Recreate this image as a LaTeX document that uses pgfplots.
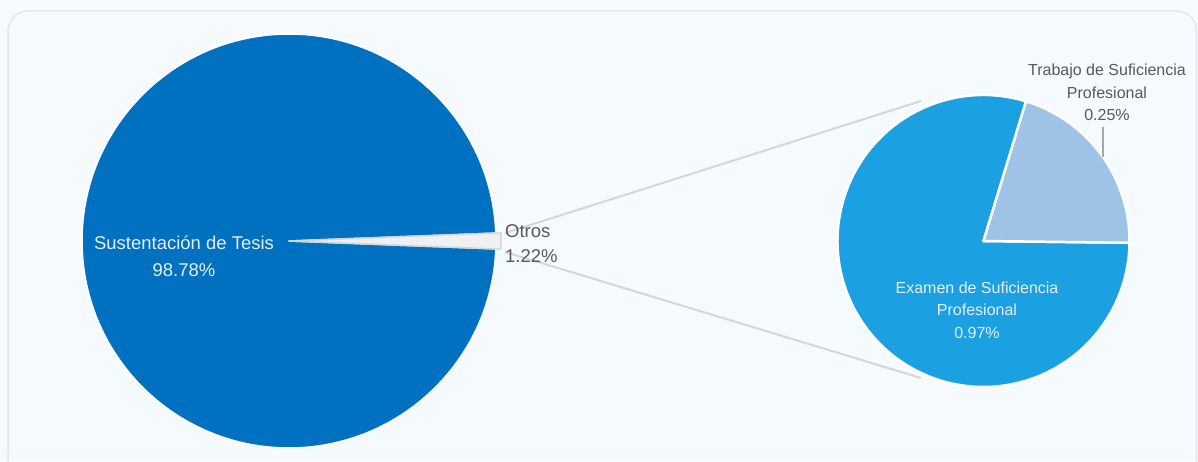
\documentclass[border=0pt]{standalone}
\usepackage{pgfplots}
\usepackage{pgfplotstable}
\pgfplotsset{compat=1.18}
\usepackage{fontspec}
\setmainfont{Liberation Sans}
\definecolor{bg}{HTML}{F5FAFE}
\definecolor{cardline}{HTML}{E1E7EE}
\definecolor{cMain}{HTML}{0070C0}
\definecolor{cExam}{HTML}{1BA1E2}
\definecolor{cTrab}{HTML}{9DC3E6}
\definecolor{cOtros}{HTML}{EEF0F3}
\definecolor{conn}{HTML}{D6D6D6}
\definecolor{lblgray}{HTML}{595959}
\definecolor{lbllight}{HTML}{E6EEF6}

% main pie
\pgfplotstableread[col sep=comma]{
label,value
Sustentacion,98.78
Otros,1.22
}\maintable
% secondary pie (breakdown of Otros)
\pgfplotstableread[col sep=comma]{
label,value
Examen,0.97
Trabajo,0.25
}\subtable

\pgfplotstablegetelem{0}{value}\of\maintable \let\vSust=\pgfplotsretval
\pgfplotstablegetelem{1}{value}\of\maintable \let\vOtros=\pgfplotsretval
\pgfplotstablegetelem{0}{value}\of\subtable \let\vExam=\pgfplotsretval
\pgfplotstablegetelem{1}{value}\of\subtable \let\vTrab=\pgfplotsretval

\pgfmathsetmacro\oHalf{\vOtros*3.6/2}
\pgfmathsetmacro\sStart{\oHalf}
\pgfmathsetmacro\sEnd{360-\oHalf}
\pgfmathsetmacro\oStart{-\oHalf}
\pgfmathsetmacro\tSpan{\vTrab/(\vTrab+\vExam)*360}
\pgfmathsetmacro\tStart{-0.7}
\pgfmathsetmacro\tEnd{\tStart+\tSpan}
\pgfmathsetmacro\eEnd{360+\tStart}

\begin{document}
\begin{tikzpicture}
\begin{axis}[
  name=ax,
  x=1pt, y=1pt,
  xmin=0, xmax=1198, ymin=0, ymax=461,
  hide axis, clip=false,
]
% background
\fill[bg] (axis cs:0,0) rectangle (axis cs:1198,461);
\draw[cardline, line width=1.5pt, rounded corners=20pt] (axis cs:8,-30) rectangle (axis cs:1196.5,450);
% connector lines
\draw[conn, line width=2pt] (axis cs:505,228) -- (axis cs:921,360);
\draw[conn, line width=2pt] (axis cs:505,209) -- (axis cs:921,83);
% main pie
\filldraw[fill=cMain, draw=white, line width=1.5pt, line join=round]
  (axis cs:289,220) -- ++(\sStart:207pt) arc[start angle=\sStart, end angle=\sEnd, radius=207pt] -- cycle;
\filldraw[fill=cOtros, draw=conn, line width=1.5pt, line join=round]
  (axis cs:289,220) -- ++(\oStart:212pt) arc[start angle=\oStart, end angle=\oHalf, radius=212pt] -- cycle;
% secondary pie
\filldraw[fill=cExam, draw=white, line width=2.5pt, line join=round]
  (axis cs:983.5,220) -- ++(\tEnd:146pt) arc[start angle=\tEnd, end angle=\eEnd, radius=146pt] -- cycle;
\filldraw[fill=cTrab, draw=white, line width=2.5pt, line join=round]
  (axis cs:983.5,220) -- ++(\tStart:146pt) arc[start angle=\tStart, end angle=\tEnd, radius=146pt] -- cycle;
% leader line
\draw[gray!70, line width=1.2pt] (axis cs:1103,334) -- (axis cs:1103,304);
% labels
\node[align=center, inner sep=0pt, text=lbllight, font=\fontsize{18.5}{27}\selectfont] at (axis cs:184,205) {Sustentación de Tesis\\98.78\%};
\node[align=left, anchor=west, inner sep=0pt, text=lblgray, font=\fontsize{18.5}{25}\selectfont] at (axis cs:505,217.5) {Otros\\1.22\%};
\node[align=center, inner sep=0pt, text=lblgray, font=\fontsize{16}{22.5}\selectfont] at (axis cs:1107,368.5) {Trabajo de Suficiencia\\Profesional\\0.25\%};
\node[align=center, inner sep=0pt, text=lbllight, font=\fontsize{16}{22.5}\selectfont] at (axis cs:977,151) {Examen de Suficiencia\\Profesional\\0.97\%};
\end{axis}
\pgfresetboundingbox
\path[use as bounding box] (ax.south west) rectangle (ax.north east);
\end{tikzpicture}
\end{document}
